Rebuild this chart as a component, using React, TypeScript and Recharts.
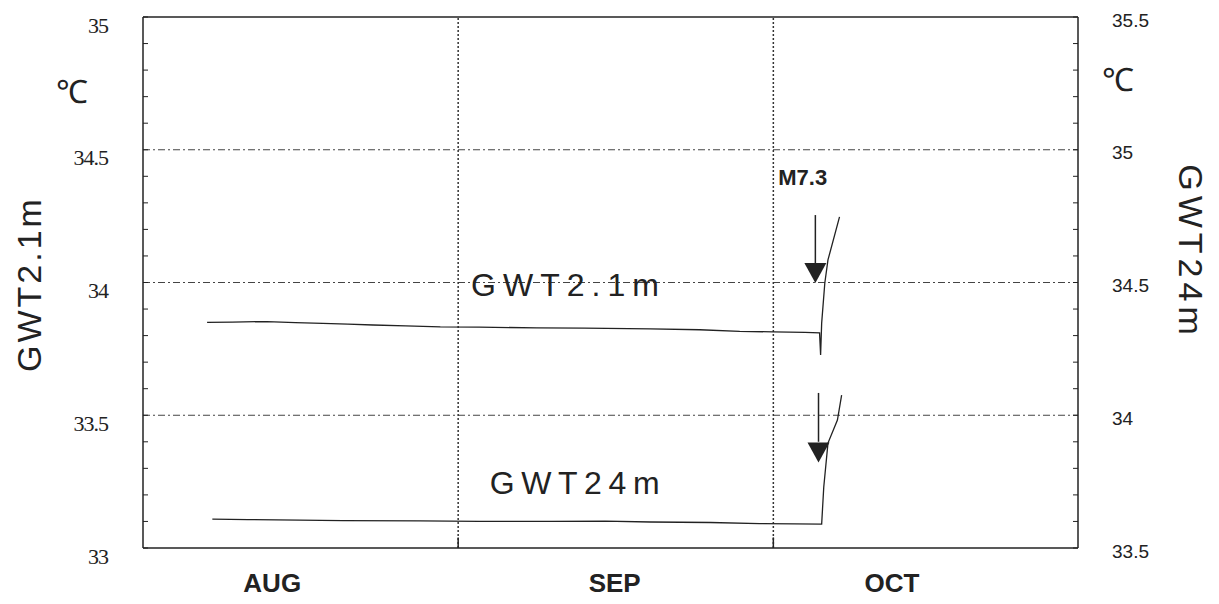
import { LineChart, Line, XAxis, YAxis, ReferenceLine, ReferenceDot } from 'recharts';

// days counted from Aug 1 (= 0)
const monthNames = ['AUG', 'SEP', 'OCT'];
const monthLabelDays = [13.3, 45.9, 72.3];
const monthStartDays = [31, 61];

const leftTicks = [33, 33.1, 33.2, 33.3, 33.4, 33.5, 33.6, 33.7, 33.8, 33.9, 34, 34.1, 34.2, 34.3, 34.4, 34.5, 34.6, 34.7, 34.8, 34.9, 35];
const leftLabels = [33, 33.5, 34, 34.5, 35];
const rightTicks = [33.5, 33.6, 33.7, 33.8, 33.9, 34, 34.1, 34.2, 34.3, 34.4, 34.5, 34.6, 34.7, 34.8, 34.9, 35, 35.1, 35.2, 35.3, 35.4, 35.5];
const rightLabels = [33.5, 34, 34.5, 35, 35.5];
const gridValues = [33.5, 34, 34.5];

// GWT 2.1m (left axis)
const shallowDays = [7.1, 9.5, 12.8, 15.5, 18.1, 20.5, 22.9, 26, 29.3, 33, 38.5, 43, 49.3, 54, 57.8, 61, 64.0, 65.4, 65.5, 65.6, 65.9, 66.2, 67.3];
const shallowTemps = [33.85, 33.851, 33.853, 33.849, 33.846, 33.843, 33.84, 33.837, 33.833, 33.832, 33.829, 33.828, 33.825, 33.822, 33.816, 33.814, 33.812, 33.81, 33.727, 33.847, 33.998, 34.085, 34.247];

// GWT 24m (right axis)
const deepDays = [7.6, 11, 15.9, 20, 27.4, 33, 39.7, 45, 49.3, 55, 59.7, 63, 65.6, 65.8, 66.2, 67.1, 67.5];
const deepTemps = [33.609, 33.607, 33.605, 33.603, 33.602, 33.6, 33.6, 33.601, 33.598, 33.596, 33.592, 33.591, 33.59, 33.73, 33.895, 33.982, 34.076];

// earthquake markers
const quakeLabel = 'M7.3';
const quakeLabelPos = { x: 63.8, y: 34.394 };
const arrowShallow = { x: 65.0, from: 34.254, to: 34.07, tri: 34.036 };
const arrowDeep = { x: 65.3, from: 34.084, to: 33.9, tri: 33.86 };
const shallowName = { x: 41.5, y: 33.99, text: 'GWT2.1m' };
const deepName = { x: 42.4, y: 33.743, text: 'GWT24m' };

const shallowData = shallowDays.map((d, i) => ({ day: d, temp: shallowTemps[i] }));
const deepData = deepDays.map((d, i) => ({ day: d, temp: deepTemps[i] }));

const INK = '#222';
const SANS = '"Liberation Sans", Arial, sans-serif';
const SERIF = '"Liberation Serif", "Times New Roman", serif';

const isMajor = (list: number[], v: number) => list.some((l) => Math.abs(l - v) < 1e-6);

const LeftTick = (props: any) => {
  const { x, y, payload } = props;
  const v = payload.value;
  return (
    <g>
      <line x1={x} x2={x + 5} y1={y} y2={y} stroke={INK} strokeWidth={1} />
      {isMajor(leftLabels, v) && (
        <text x={x - 35} y={y + 8} textAnchor="end" dominantBaseline="central" fontFamily={SERIF} fontSize={22} letterSpacing={-1} fill={INK}>
          {v}
        </text>
      )}
    </g>
  );
};

const RightTick = (props: any) => {
  const { x, y, payload } = props;
  const v = payload.value;
  return (
    <g>
      <line x1={x - 5} x2={x} y1={y} y2={y} stroke={INK} strokeWidth={1} />
      {isMajor(rightLabels, v) && (
        <text x={x + 34} y={y + 3} textAnchor="start" dominantBaseline="central" fontFamily={SANS} fontSize={19} fill={INK}>
          {v}
        </text>
      )}
    </g>
  );
};

const MonthTick = (props: any) => {
  const { x, y, index } = props;
  return (
    <text x={x} y={y + 35} textAnchor="middle" dominantBaseline="central" fontFamily={SANS} fontWeight="bold" fontSize={26} fill={INK}>
      {monthNames[index]}
    </text>
  );
};

const LeftTitle = (props: any) => {
  const vb = props.viewBox || { x: 0, y: 9, width: 135, height: 531 };
  const cx = vb.x + 21;
  const cy = vb.y + 267;
  return (
    <g>
      <text x={cx} y={cy} transform={`rotate(-90 ${cx} ${cy})`} textAnchor="middle" dominantBaseline="central" fontFamily={SANS} fontSize={34} letterSpacing={3} fill={INK}>
        GWT2.1m
      </text>
      <text x={vb.x + 64} y={vb.y + 75} textAnchor="middle" dominantBaseline="central" fontFamily={SERIF} fontSize={32} fill={INK}>
        ℃
      </text>
    </g>
  );
};

const RightTitle = (props: any) => {
  const vb = props.viewBox || { x: 1070, y: 9, width: 141, height: 531 };
  const cx = vb.x + 113;
  const cy = vb.y + 235;
  return (
    <g>
      <text x={cx} y={cy} transform={`rotate(90 ${cx} ${cy})`} textAnchor="middle" dominantBaseline="central" fontFamily={SANS} fontSize={34} letterSpacing={5} fill={INK}>
        GWT24m
      </text>
      <text x={vb.x + 40} y={vb.y + 63} textAnchor="middle" dominantBaseline="central" fontFamily={SERIF} fontSize={32} fill={INK}>
        ℃
      </text>
    </g>
  );
};

const Triangle = (props: any) => {
  const { cx, cy } = props;
  return <path d={`M${cx - 11},${cy - 10} L${cx + 11},${cy - 10} L${cx},${cy + 10} Z`} fill={INK} />;
};

const makeText = (text: string, size: number, bold: boolean, spacing: number) => (props: any) => (
  <text x={props.cx} y={props.cy} textAnchor="middle" dominantBaseline="central" fontFamily={SANS} fontSize={size} fontWeight={bold ? 'bold' : 'normal'} letterSpacing={spacing} fill={INK}>
    {text}
  </text>
);

export default function App() {
  return (
    <div style={{ width: 1211, height: 590, background: '#fff' }}>
      <LineChart width={1211} height={590} margin={{ top: 9, right: 0, bottom: 0, left: 0 }}>
        <XAxis
          dataKey="day"
          type="number"
          domain={[1, 90]}
          allowDataOverflow
          ticks={monthLabelDays}
          interval={0}
          tickSize={0}
          tickMargin={0}
          tick={<MonthTick />}
          height={50}
          axisLine={{ stroke: INK, strokeWidth: 1.5 }}
        />
        <YAxis
          yAxisId="left"
          orientation="left"
          type="number"
          domain={[33, 35]}
          allowDataOverflow
          ticks={leftTicks}
          interval={0}
          width={135}
          tickSize={0}
          tickMargin={0}
          tick={<LeftTick />}
          axisLine={{ stroke: INK, strokeWidth: 1.5 }}
          label={(p: any) => <LeftTitle {...p} />}
        />
        <YAxis
          yAxisId="right"
          orientation="right"
          type="number"
          domain={[33.5, 35.5]}
          allowDataOverflow
          ticks={rightTicks}
          interval={0}
          width={141}
          tickSize={0}
          tickMargin={0}
          tick={<RightTick />}
          axisLine={{ stroke: INK, strokeWidth: 1.5 }}
          label={(p: any) => <RightTitle {...p} />}
        />

        <ReferenceLine yAxisId="left" y={35} stroke={INK} strokeWidth={1.5} />
        {gridValues.map((g) => (
          <ReferenceLine key={g} yAxisId="left" y={g} stroke="#444" strokeWidth={1} strokeDasharray="7 3 2 3" />
        ))}
        {monthStartDays.map((d) => (
          <ReferenceLine key={d} yAxisId="left" x={d} stroke="#333" strokeWidth={1.5} strokeDasharray="2 2" />
        ))}
        {monthStartDays.map((d) => (
          <ReferenceLine key={`t${d}`} yAxisId="left" segment={[{ x: d, y: 33 }, { x: d, y: 33.04 }]} stroke={INK} strokeWidth={1.5} />
        ))}

        <Line yAxisId="left" data={shallowData} dataKey="temp" type="linear" stroke={INK} strokeWidth={1.3} dot={false} isAnimationActive={false} />
        <Line yAxisId="right" data={deepData} dataKey="temp" type="linear" stroke={INK} strokeWidth={1.3} dot={false} isAnimationActive={false} />

        <ReferenceLine yAxisId="left" segment={[{ x: arrowShallow.x, y: arrowShallow.from }, { x: arrowShallow.x, y: arrowShallow.to }]} stroke={INK} strokeWidth={1.5} />
        <ReferenceDot yAxisId="left" x={arrowShallow.x} y={arrowShallow.tri} r={10} shape={<Triangle />} />
        <ReferenceLine yAxisId="right" segment={[{ x: arrowDeep.x, y: arrowDeep.from }, { x: arrowDeep.x, y: arrowDeep.to }]} stroke={INK} strokeWidth={1.5} />
        <ReferenceDot yAxisId="right" x={arrowDeep.x} y={arrowDeep.tri} r={10} shape={<Triangle />} />

        <ReferenceDot yAxisId="left" x={quakeLabelPos.x} y={quakeLabelPos.y} r={1} shape={makeText(quakeLabel, 22, true, 0)} />
        <ReferenceDot yAxisId="left" x={shallowName.x} y={shallowName.y} r={1} shape={makeText(shallowName.text, 32, false, 7)} />
        <ReferenceDot yAxisId="right" x={deepName.x} y={deepName.y} r={1} shape={makeText(deepName.text, 32, false, 6.6)} />
      </LineChart>
    </div>
  );
}
